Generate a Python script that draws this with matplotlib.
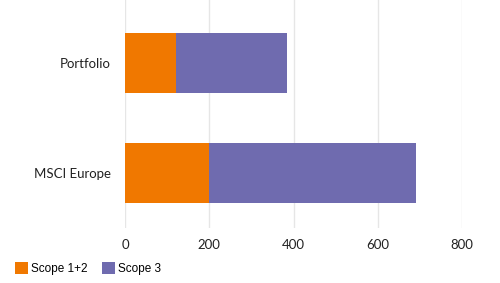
import matplotlib
matplotlib.use('Agg')
import matplotlib.pyplot as plt
import numpy as np

# data
categories = ['MSCI Europe', 'Portfolio']
scope12 = [200, 120]
scope3 = [490, 265]
series_names = ['Scope 1+2', 'Scope 3']
colors = ['#F07800', '#6F6BAF']

plt.rcParams['font.family'] = ['Lato', 'DejaVu Sans']
fig = plt.figure(figsize=(5.0, 2.83), dpi=100)
ax = fig.add_axes([0.25, 0.194, 0.674, 0.806])

y = np.arange(len(categories))
h1 = ax.barh(y, scope12, height=0.54, color=colors[0], label=series_names[0], zorder=3)
h2 = ax.barh(y, scope3, left=scope12, height=0.54, color=colors[1], label=series_names[1], zorder=3)

ax.set_xlim(0, 800)
ax.set_ylim(-0.5, 1.57)
ax.set_xticks([0, 200, 400, 600, 800])
ax.set_yticks(y)
ax.set_yticklabels(categories)
ax.grid(axis='x', color='#e6e6e6', linewidth=1, zorder=0)
for s in ax.spines.values():
    s.set_visible(False)
ax.tick_params(length=0, labelsize=9.5, colors='#222222')
ax.tick_params(axis='x', pad=8)
ax.tick_params(axis='y', pad=10)

fig.legend(handles=[h1, h2], loc='lower left', bbox_to_anchor=(0.008, -0.01), ncol=2,
           frameon=False, handlelength=1.1, handleheight=1.2,
           handletextpad=0.3, columnspacing=1.2, prop={'family': ['Liberation Sans'], 'size': 8.5})

fig.savefig('out.png', dpi=100)
